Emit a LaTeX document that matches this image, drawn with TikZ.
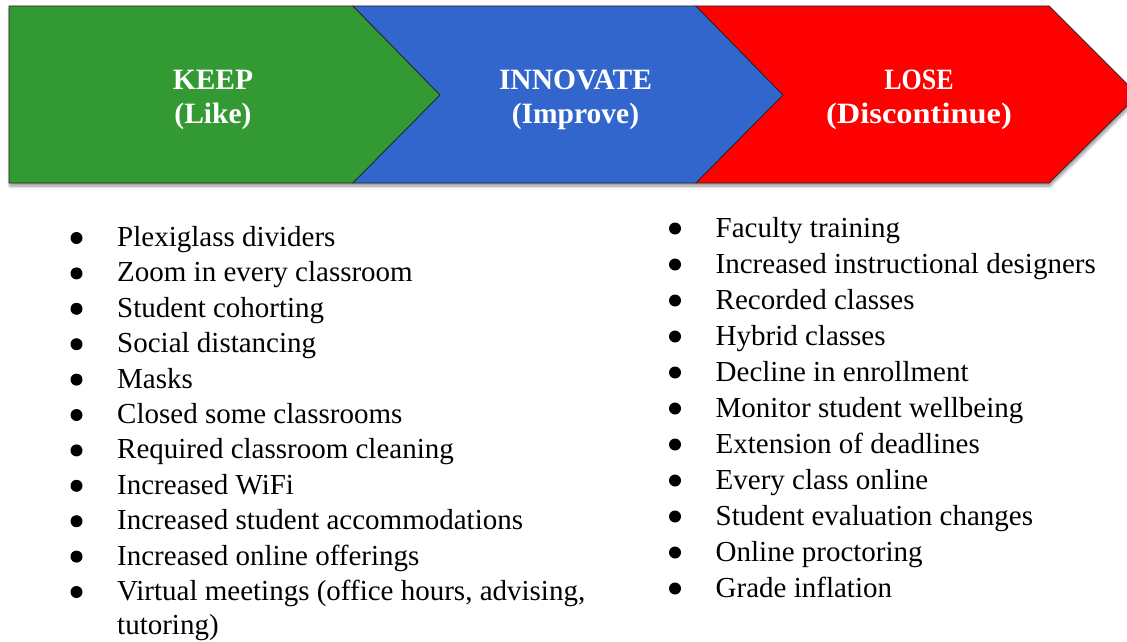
\documentclass[tikz,border=0pt]{standalone}
\usepackage{fontspec}
\setmainfont{Liberation Serif}
\usetikzlibrary{shadows.blur}
\definecolor{keepgreen}{RGB}{51,153,51}
\definecolor{innoblue}{RGB}{51,102,204}
\definecolor{losered}{RGB}{255,0,0}
\definecolor{edgegray}{RGB}{35,35,35}
\begin{document}
\begin{tikzpicture}[x=1pt,y=-1pt,
  chevron/.style={draw=edgegray, line width=0.7pt, line join=miter},
  head/.style={text=white, font=\fontsize{29.5}{34}\selectfont\bfseries, anchor=base, inner sep=0pt},
  item/.style={anchor=base west, inner sep=0pt, font=\fontsize{29}{35.6}\selectfont},
  dot/.style={circle, fill=black, inner sep=0pt, minimum size=12pt}]
\useasboundingbox (0,0) rectangle (1127,642);

% soft shadow beneath the whole band
\path[fill=white, blur shadow={shadow xshift=1pt, shadow yshift=-3pt,
      shadow blur radius=3pt, shadow blur steps=6, shadow opacity=45}]
  (9,6) -- (1049,6) -- (1138,95) -- (1049,183) -- (9,183) -- cycle;

% the three chevrons
\filldraw[chevron, fill=keepgreen]
  (9,6) -- (353,6) -- (440,95) -- (353,183) -- (9,183) -- cycle;
\filldraw[chevron, fill=innoblue]
  (353,6) -- (696,6) -- (783,95) -- (696,183) -- (353,183) -- (440,95) -- cycle;
\filldraw[chevron, fill=losered]
  (696,6) -- (1049,6) -- (1138,95) -- (1049,183) -- (696,183) -- (783,95) -- cycle;

% chevron labels
\node[head] (keep) at (213,89.5) {KEEP};
\node[head] (keepsub) at (213,123.5) {(Like)};
\node[head] (innovate) at (575.5,89.5) {INNOVATE};
\node[head] (innovatesub) at (575.5,123.5) {(Improve)};
\node[head] (lose) at (919,89.5) {\scalebox{0.88}[1]{LOSE}};
\node[head] (losesub) at (919,123.5) {\scalebox{1.1}[1]{(Discontinue)}};

% left list
\foreach \t [count=\i from 0] in {
    Plexiglass dividers,
    Zoom in every classroom,
    Student cohorting,
    Social distancing,
    Masks,
    Closed some classrooms,
    Required classroom cleaning,
    Increased WiFi,
    Increased student accommodations,
    Increased online offerings,
    {Virtual meetings (office hours, advising,}}{
  \pgfmathsetmacro{\yb}{246.5+35.4*\i}
  \node[dot] (ld\i) at (76.5,\yb-8.5) {};
  \node[item] (l\i) at (117,\yb) {\t};
}
\node[item] (l10b) at (117,634.5) {tutoring)};

% right list
\foreach \t [count=\i from 0] in {
    Faculty training,
    Increased instructional designers,
    Recorded classes,
    Hybrid classes,
    Decline in enrollment,
    Monitor student wellbeing,
    Extension of deadlines,
    Every class online,
    Student evaluation changes,
    Online proctoring,
    Grade inflation}{
  \pgfmathsetmacro{\yb}{237+36*\i}
  \node[dot] (rd\i) at (675,\yb-8.5) {};
  \node[item] (r\i) at (715.5,\yb) {\t};
}
\end{tikzpicture}
\end{document}
